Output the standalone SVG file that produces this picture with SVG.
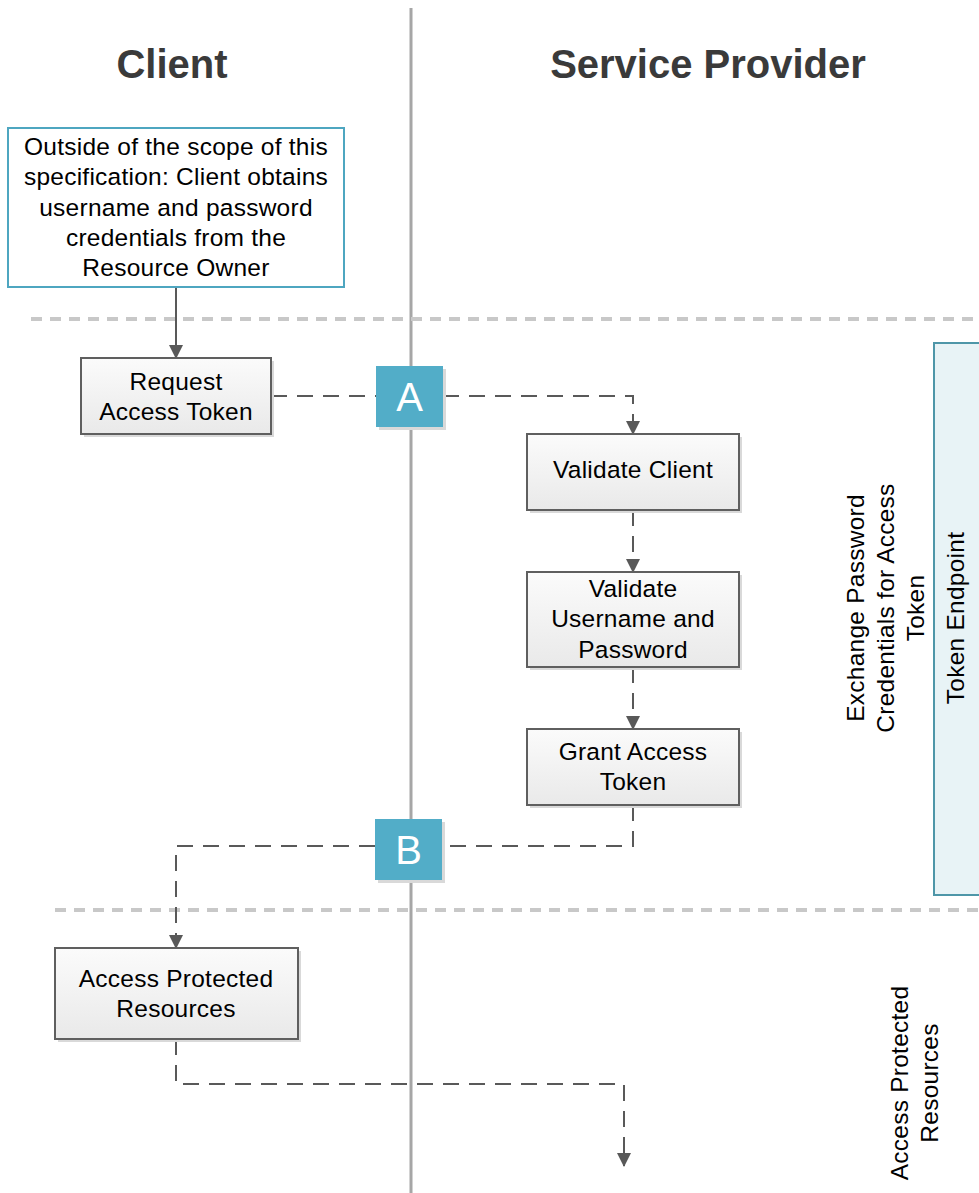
<svg xmlns="http://www.w3.org/2000/svg" width="979" height="1193" viewBox="0 0 979 1193">
<style>
text{font-family:"Liberation Sans",Arial,sans-serif;fill:#000}
.t{font-size:24.5px;text-anchor:middle;letter-spacing:0.25px}
.title{font-size:40px;font-weight:bold;text-anchor:middle;fill:#3a3a3a}
.badge-t{font-size:40px;fill:#fff;text-anchor:middle}
.box{fill:url(#g);stroke:#5f5f5f;stroke-width:2}
.sh{fill:#d9d9d9}
.badge{fill:#52adc8}
.sep{stroke:#c8c8c8;stroke-width:4;stroke-dasharray:11 8;fill:none}
.con{stroke:#595959;stroke-width:2;fill:none}
.dash{stroke-dasharray:16 10}
</style>
<defs>
<linearGradient id="g" x1="0" y1="0" x2="0" y2="1">
<stop offset="0" stop-color="#fbfbfb"/>
<stop offset="1" stop-color="#e9e9e9"/>
</linearGradient>
<marker id="arr" markerWidth="14" markerHeight="14" refX="13" refY="7" orient="auto" markerUnits="userSpaceOnUse">
<path d="M0,0 L14,7 L0,14 Z" fill="#595959"/>
</marker>
</defs>
<rect width="979" height="1193" fill="#fff"/>

<g id="lanes">
<line x1="411" y1="8" x2="411" y2="1193" stroke="#a6a6a6" stroke-width="3"/>
<line class="sep" x1="31" y1="319" x2="979" y2="319"/>
<line class="sep" x1="55" y1="910" x2="979" y2="910"/>
<text class="title" x="172" y="78">Client</text>
<text class="title" x="708" y="78">Service Provider</text>
</g>

<g id="connectors">
<line class="con" x1="176" y1="287" x2="176" y2="358" marker-end="url(#arr)"/>
<polyline class="con dash" points="271,396 376,396"/>
<polyline class="con dash" points="443,396 633,396 633,434" marker-end="url(#arr)"/>
<line class="con dash" x1="633" y1="510" x2="633" y2="572" marker-end="url(#arr)"/>
<line class="con dash" x1="633" y1="667" x2="633" y2="729" marker-end="url(#arr)"/>
<polyline class="con dash" points="633,805 633,846 444,846"/>
<polyline class="con dash" points="375,846 176,846 176,948" marker-end="url(#arr)"/>
<polyline class="con dash" points="176,1039 176,1084 624,1084 624,1166" marker-end="url(#arr)"/>
</g>

<g id="outside">
<rect x="8" y="128" width="336" height="159" fill="#fff" stroke="#4ea6c0" stroke-width="2"/>
<text class="t" x="176" y="155">Outside of the scope of this</text>
<text class="t" x="176" y="185">specification: Client obtains</text>
<text class="t" x="176" y="216">username and password</text>
<text class="t" x="176" y="246">credentials from the</text>
<text class="t" x="176" y="276">Resource Owner</text>
</g>

<g id="request">
<rect class="sh" x="84" y="361" width="190" height="76"/>
<rect class="box" x="81" y="358" width="190" height="76"/>
<text class="t" x="176" y="390">Request</text>
<text class="t" x="176" y="420">Access Token</text>
</g>

<g id="badgeA">
<rect class="sh" x="379" y="369" width="67" height="61"/>
<rect class="badge" x="376" y="366" width="67" height="61"/>
<text class="badge-t" x="409.5" y="411">A</text>
</g>

<g id="validateClient">
<rect class="sh" x="530" y="437" width="212" height="76"/>
<rect class="box" x="527" y="434" width="212" height="76"/>
<text class="t" x="633" y="478">Validate Client</text>
</g>

<g id="validateUser">
<rect class="sh" x="530" y="575" width="212" height="95"/>
<rect class="box" x="527" y="572" width="212" height="95"/>
<text class="t" x="633" y="597">Validate</text>
<text class="t" x="633" y="627">Username and</text>
<text class="t" x="633" y="658">Password</text>
</g>

<g id="grant">
<rect class="sh" x="530" y="732" width="212" height="76"/>
<rect class="box" x="527" y="729" width="212" height="76"/>
<text class="t" x="633" y="760">Grant Access</text>
<text class="t" x="633" y="790">Token</text>
</g>

<g id="badgeB">
<rect class="sh" x="378" y="822" width="67" height="61"/>
<rect class="badge" x="375" y="819" width="67" height="61"/>
<text class="badge-t" x="408.5" y="864">B</text>
</g>

<g id="access">
<rect class="sh" x="58" y="951" width="243" height="91"/>
<rect class="box" x="55" y="948" width="243" height="91"/>
<text class="t" x="176" y="987">Access Protected</text>
<text class="t" x="176" y="1017">Resources</text>
</g>

<g id="tokenEndpoint">
<rect x="934" y="343" width="50" height="552" fill="#e8f3f6" stroke="#4e96a8" stroke-width="2"/>
<text class="t" transform="translate(955,618) rotate(-90)" dominant-baseline="central">Token Endpoint</text>
</g>

<g id="exchangeLabel">
<text class="t" transform="translate(855,608) rotate(-90)" dominant-baseline="central">Exchange Password</text>
<text class="t" transform="translate(885,608) rotate(-90)" dominant-baseline="central">Credentials for Access</text>
<text class="t" transform="translate(915,608) rotate(-90)" dominant-baseline="central">Token</text>
</g>

<g id="accessLabel">
<text class="t" transform="translate(899,1083) rotate(-90)" dominant-baseline="central">Access Protected</text>
<text class="t" transform="translate(929,1083) rotate(-90)" dominant-baseline="central">Resources</text>
</g>
</svg>
